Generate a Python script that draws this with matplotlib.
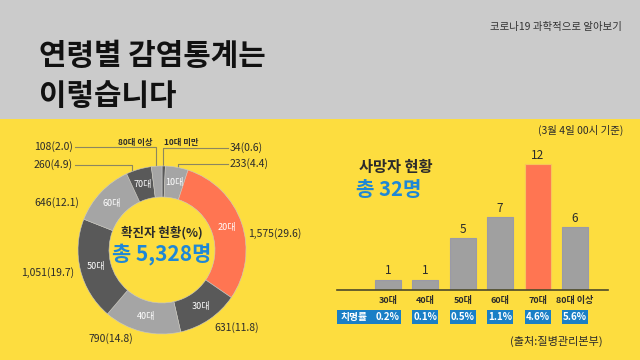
import numpy as np
import matplotlib.pyplot as plt
from matplotlib.patches import Rectangle

plt.rcParams['font.family'] = ['Noto Sans CJK KR', 'DejaVu Sans']

# 확진자 (연령별)
age_groups = ['10대 미만', '10대', '20대', '30대', '40대', '50대', '60대', '70대', '80대 이상']
cases = [34, 233, 1575, 631, 790, 1051, 646, 260, 108]
case_pct = [0.6, 4.4, 29.6, 11.8, 14.8, 19.7, 12.1, 4.9, 2.0]
total_cases = 5328

# 사망자 (연령별)
death_groups = ['30대', '40대', '50대', '60대', '70대', '80대 이상']
deaths = [1, 1, 5, 7, 12, 6]
fatality = ['0.2%', '0.1%', '0.5%', '1.1%', '4.6%', '5.6%']
total_deaths = 32

YELLOW = '#fddd3f'
GRAY_BG = '#cbcbcb'
DARK = '#595959'
LIGHT = '#a5a5a5'
CORAL = '#ff7552'
BLUE = '#1e87d6'
BOXBLUE = '#1a7fc6'
TXT = '#2b2b2b'

fig = plt.figure(figsize=(6.4, 3.6), dpi=100)
fig.patch.set_facecolor(YELLOW)

# 배경 + 텍스트용 축 (픽셀 좌표)
bg = fig.add_axes([0, 0, 1, 1], zorder=0)
bg.set_xlim(0, 640)
bg.set_ylim(360, 0)
bg.axis('off')
bg.add_patch(Rectangle((0, 0), 640, 119, color=GRAY_BG, lw=0))

bg.text(622, 27, '코로나19 과학적으로 알아보기', ha='right', va='center', fontsize=7.5, color='#333333')
bg.text(39, 56, '연령별 감염통계는', ha='left', va='center', fontsize=21.5, fontweight='heavy', color='#111111')
bg.text(39, 96, '이렇습니다', ha='left', va='center', fontsize=21.5, fontweight='heavy', color='#111111')

# 도넛 차트
cx, cy, R = 162, 250, 84
half = 92
pie_ax = fig.add_axes([(cx - half) / 640, (360 - cy - half) / 360, 2 * half / 640, 2 * half / 360], zorder=2)
pie_ax.set_facecolor('none')
colors = [DARK, LIGHT, CORAL, DARK, LIGHT, DARK, LIGHT, DARK, LIGHT]
width = 31 / 84
wedges, _ = pie_ax.pie(cases, colors=colors, startangle=90, counterclock=False, radius=1,
                       wedgeprops=dict(width=width, edgecolor='#c8c8c8', linewidth=0.4))
pie_ax.set_xlim(-half / R, half / R)
pie_ax.set_ylim(-half / R, half / R)
pie_ax.axis('off')

# 조각 안의 라벨
frac = np.array(cases) / sum(cases)
mid = np.cumsum(frac) - frac / 2
for i, name in enumerate(age_groups):
    if i == 0 or i == 8:
        continue
    ang = np.deg2rad(90 - mid[i] * 360)
    r = 1 - width / 2
    pie_ax.text(r * np.cos(ang), r * np.sin(ang), name, ha='center', va='center',
                fontsize=6.5, color='white')

pie_ax.text(0, 0.2, '확진자 현황(%)', ha='center', va='center', fontsize=9, fontweight='bold', color=TXT)
pie_ax.text(0, -0.06, '총 {:,}명'.format(total_cases), ha='center', va='center', fontsize=15,
            fontweight='bold', color=BLUE)

# 바깥 라벨
def lab(i):
    return '{:,}({:.1f})'.format(cases[i], case_pct[i])

LC = '#8c8660'
bg.text(73, 147, lab(8), ha='right', va='center', fontsize=7.5, color=TXT)
bg.plot([75, 156, 156], [147, 147, 168], color=LC, lw=0.8)
bg.text(73, 165, lab(7), ha='right', va='center', fontsize=7.5, color=TXT)
bg.plot([75, 132, 132], [165, 165, 172], color=LC, lw=0.8)
bg.text(79, 203, lab(6), ha='right', va='center', fontsize=7.5, color=TXT)
bg.text(74, 273, lab(5), ha='right', va='center', fontsize=7.5, color=TXT)
bg.text(111, 339, lab(4), ha='center', va='center', fontsize=7.5, color=TXT)
bg.text(237, 328, lab(3), ha='center', va='center', fontsize=7.5, color=TXT)
bg.text(248, 234, lab(2), ha='left', va='center', fontsize=7.5, color=TXT)
bg.text(230, 148, lab(0), ha='left', va='center', fontsize=7.5, color=TXT)
bg.plot([163, 163, 228], [167, 148, 148], color=LC, lw=0.8)
bg.text(230, 164, lab(1), ha='left', va='center', fontsize=7.5, color=TXT)
bg.plot([178, 178, 228], [170, 164, 164], color=LC, lw=0.8)
bg.text(153, 143, age_groups[8], ha='right', va='center', fontsize=6, fontweight='bold', color=TXT)
bg.text(164, 143, age_groups[0], ha='left', va='center', fontsize=6, fontweight='bold', color=TXT)

# 사망자 막대그래프
x0, x1, base, top = 337, 608, 290, 130
step = 37.4
px_per = 10.47
bar_ax = fig.add_axes([x0 / 640, (360 - base) / 360, (x1 - x0) / 640, (base - top) / 360], zorder=2)
bar_ax.set_facecolor('none')
x = np.arange(len(deaths))
bar_colors = [CORAL if d == max(deaths) else '#a0a0a0' for d in deaths]
edge_colors = ['#f7c65a' if d == max(deaths) else '#9a9aa8' for d in deaths]
bar_ax.bar(x, deaths, width=0.7, color=bar_colors, edgecolor=edge_colors, linewidth=0.8)
bar_ax.set_xlim(-(388 - x0) / step, (x1 - 388) / step)
bar_ax.set_ylim(0, (base - top) / px_per)
for s in ['top', 'right', 'left']:
    bar_ax.spines[s].set_visible(False)
bar_ax.spines['bottom'].set_color('#4d4a2a')
bar_ax.spines['bottom'].set_linewidth(1.2)
bar_ax.set_xticks([])
bar_ax.set_yticks([])
for xi, d in zip(x, deaths):
    bar_ax.text(xi, d + 0.2, str(d), ha='center', va='bottom', fontsize=8.5, color=TXT)
    bar_ax.text(xi, -10 / px_per, death_groups[xi], ha='center', va='center', fontsize=6.5,
                fontweight='bold', color=TXT)

# 치명률 상자
by0, by1 = -(323.5 - base) / px_per, -(310 - base) / px_per
left0 = -(388 - x0) / step
bar_ax.add_patch(Rectangle((left0, by0), 0.35 - left0, by1 - by0, color=BOXBLUE, lw=0, clip_on=False))
bar_ax.text(left0 + 0.1, (by0 + by1) / 2, '치명률', ha='left', va='center', fontsize=7,
            fontweight='bold', color='white')
for xi, f in zip(x, fatality):
    if xi > 0:
        bar_ax.add_patch(Rectangle((xi - 0.35, by0), 0.7, by1 - by0, color=BOXBLUE, lw=0, clip_on=False))
    bar_ax.text(xi, (by0 + by1) / 2, f, ha='center', va='center', fontsize=7,
                fontweight='bold', color='white')

bg.text(396, 167, '사망자 현황', ha='center', va='center', fontsize=11, fontweight='bold', color=TXT)
bg.text(389, 190, '총 {}명'.format(total_deaths), ha='center', va='center', fontsize=14.5,
        fontweight='bold', color=BLUE)
bg.text(623, 130, '(3월 4일 00시 기준)', ha='right', va='center', fontsize=7.5, color=TXT)
bg.text(603, 341, '(출처:질병관리본부)', ha='right', va='center', fontsize=8, color=TXT)

fig.savefig('out.png', dpi=100, facecolor=fig.get_facecolor())
